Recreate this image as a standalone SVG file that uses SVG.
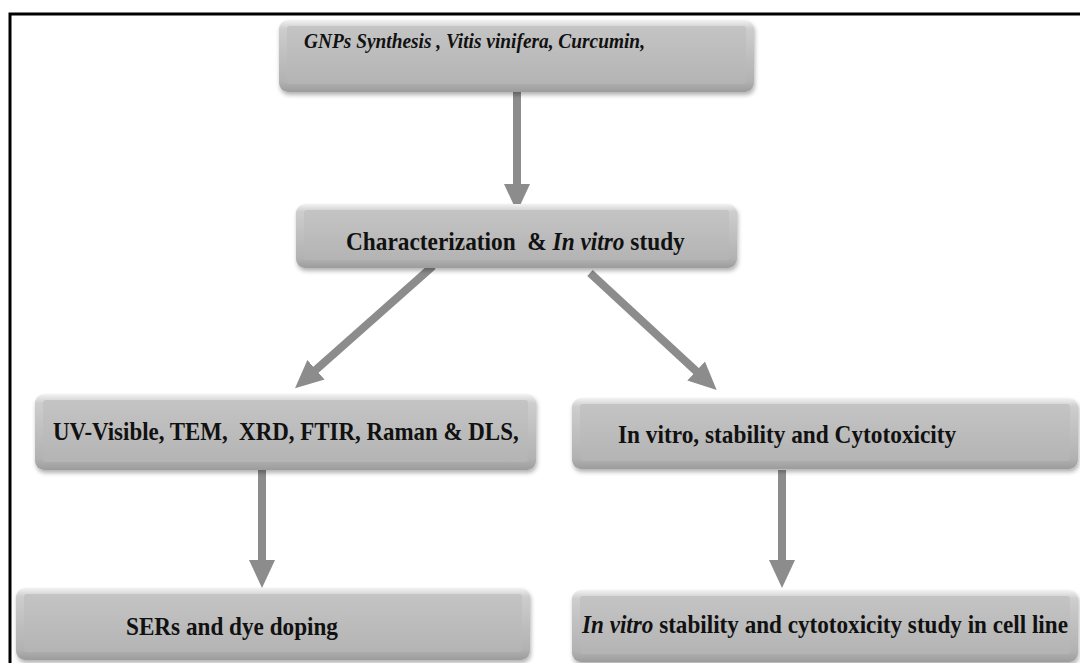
<svg xmlns="http://www.w3.org/2000/svg" width="1080" height="663" viewBox="0 0 1080 663">
<style>
.txt{font-family:"Liberation Serif","Times New Roman",serif;font-weight:bold;fill:#111;white-space:pre;font-size:26px}
.it{font-style:italic}
.outer{fill:url(#bevel);filter:url(#sh)}
.inner{fill:url(#face)}
.conn{stroke:#8c8c8c;stroke-width:8;fill:none;marker-end:url(#ah)}
</style>
<defs>
<linearGradient id="bevel" x1="0" y1="0" x2="0" y2="1">
<stop offset="0" stop-color="#f2f2f2"/>
<stop offset="0.12" stop-color="#cdcdcd"/>
<stop offset="0.85" stop-color="#b2b2b2"/>
<stop offset="1" stop-color="#9c9c9c"/>
</linearGradient>
<linearGradient id="face" x1="0" y1="0" x2="0" y2="1">
<stop offset="0" stop-color="#c4c4c4"/>
<stop offset="1" stop-color="#b4b4b4"/>
</linearGradient>
<filter id="sh" x="-5%" y="-20%" width="110%" height="150%">
<feDropShadow dx="1" dy="3" stdDeviation="2" flood-color="#000" flood-opacity="0.3"/>
</filter>
<marker id="ah" markerUnits="userSpaceOnUse" markerWidth="28" markerHeight="26" refX="8" refY="13" orient="auto">
<path d="M0,0 L28,13 L0,26 Z" fill="#8c8c8c"/>
</marker>
</defs>
<rect width="1080" height="663" fill="#fff"/>
<path d="M10,663 V14 H1080" fill="none" stroke="#000" stroke-width="3"/>

<g id="connectors">
<line class="conn" x1="517" y1="92" x2="517" y2="192"/>
<line class="conn" x1="433" y1="266" x2="310" y2="375"/>
<line class="conn" x1="590" y1="273" x2="702" y2="376.5"/>
<line class="conn" x1="262" y1="470" x2="262" y2="568"/>
<line class="conn" x1="782" y1="470" x2="782" y2="568"/>
</g>

<g id="n1">
<rect class="outer" x="279" y="20" width="475" height="72" rx="9"/>
<rect class="inner" x="287" y="26" width="459" height="58" rx="3"/>
<text class="txt it" transform="translate(304,48) scale(0.88,1)" style="font-size:22px">GNPs Synthesis , Vitis vinifera, Curcumin,</text>
</g>

<g id="n2">
<rect class="outer" x="296" y="204" width="441" height="64" rx="9"/>
<rect class="inner" x="304" y="210" width="425" height="50" rx="3"/>
<text class="txt" transform="translate(346,250) scale(0.8975,1)">Characterization  &amp; <tspan class="it">In vitro</tspan> study</text>
</g>

<g id="n3">
<rect class="outer" x="35" y="394" width="501" height="76" rx="9"/>
<rect class="inner" x="43" y="400" width="485" height="62" rx="3"/>
<text class="txt" transform="translate(53,440) scale(0.882,1)">UV-Visible, TEM,  XRD, FTIR, Raman &amp; DLS,</text>
</g>

<g id="n4">
<rect class="outer" x="572" y="398" width="506" height="71" rx="9"/>
<rect class="inner" x="580" y="404" width="490" height="57" rx="3"/>
<text class="txt" transform="translate(618,443) scale(0.897,1)">In vitro, stability and Cytotoxicity</text>
</g>

<g id="n5">
<rect class="outer" x="16" y="588" width="514" height="72" rx="9"/>
<rect class="inner" x="24" y="594" width="498" height="58" rx="3"/>
<text class="txt" transform="translate(126,635) scale(0.892,1)">SERs and dye doping</text>
</g>

<g id="n6">
<rect class="outer" x="572" y="590" width="506" height="72" rx="9"/>
<rect class="inner" x="580" y="596" width="490" height="58" rx="3"/>
<text class="txt" transform="translate(582,633) scale(0.89,1)"><tspan class="it">In vitro</tspan> stability and cytotoxicity study in cell line</text>
</g>
</svg>
